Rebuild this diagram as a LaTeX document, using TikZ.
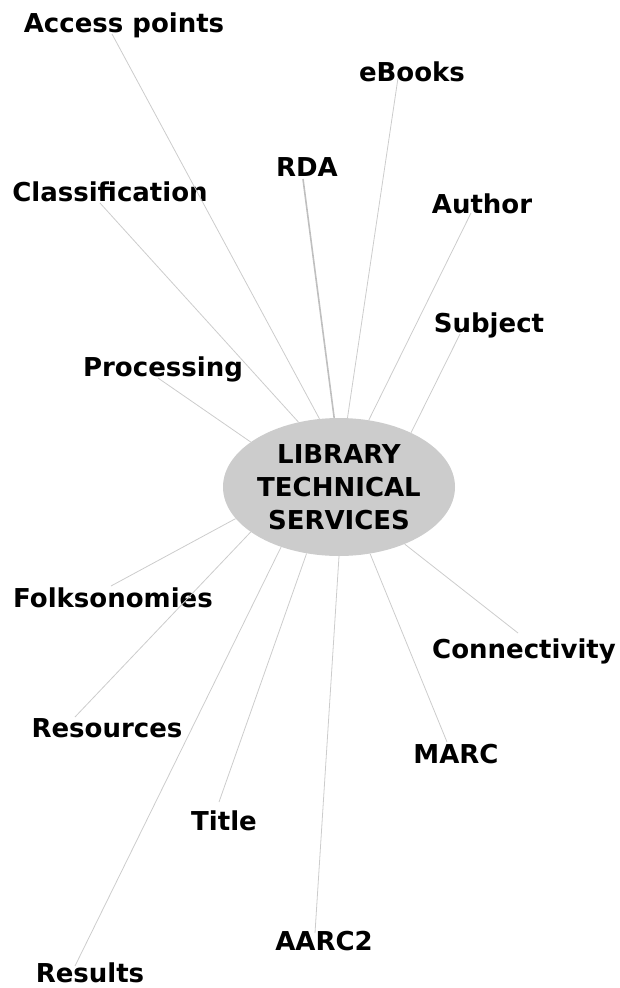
\documentclass[tikz,border=0pt]{standalone}
\usepackage{fontspec}
\setmainfont{DejaVu Sans}
\usetikzlibrary{shapes.geometric}
\begin{document}
\begin{tikzpicture}[x=1pt,y=-1pt,
  lbl/.style={anchor=base,inner sep=0pt,font=\fontsize{26}{32}\selectfont\bfseries},
  spoke/.style={draw=black!20,line width=0.8pt}]
  \useasboundingbox (0,0) rectangle (619,988);
  \node[ellipse,fill=black!20,minimum width=232pt,minimum height=138pt,inner sep=0pt,align=center,
    font=\fontsize{26}{33}\selectfont\bfseries] (lts) at (339,487) {LIBRARY\\TECHNICAL\\SERVICES};
  % labels round the centre
  \node[lbl] (acc) at (124,32) {Access points};  \coordinate (acc-e) at (112,34);
  \node[lbl] (ebk) at (412,81) {eBooks};         \coordinate (ebk-e) at (398,78);
  \node[lbl] (rda) at (307,176) {RDA};           \coordinate (rda-e) at (303,179);
  \node[lbl] (aut) at (482,213) {Author};        \coordinate (aut-e) at (471,213);
  \node[lbl] (cls) at (110,201) {Classification};\coordinate (cls-e) at (100,203);
  \node[lbl] (sbj) at (489,332) {Subject};       \coordinate (sbj-e) at (460,334);
  \node[lbl] (prc) at (163,376) {Processing};    \coordinate (prc-e) at (158,378);
  \node[lbl] (flk) at (113,607) {Folksonomies};  \coordinate (flk-e) at (111,586);
  \node[lbl] (cnn) at (524,658) {Connectivity};  \coordinate (cnn-e) at (518,633);
  \node[lbl] (res) at (107,737) {Resources};     \coordinate (res-e) at (75,717);
  \node[lbl] (mrc) at (456,763) {MARC};          \coordinate (mrc-e) at (447,742);
  \node[lbl] (ttl) at (224,830) {Title};         \coordinate (ttl-e) at (219,802);
  \node[lbl] (aac) at (324,950) {AARC2};         \coordinate (aac-e) at (315,933);
  \node[lbl] (rsl) at (90,982) {Results};        \coordinate (rsl-e) at (75,966);
  % spokes
  \draw[spoke] (acc-e) -- (lts.106.5); \draw[spoke] (ebk-e) -- (lts.83.6);
  \draw[spoke,draw=black!25,line width=1.6pt] (rda-e) -- (lts.94);
  \draw[spoke] (aut-e) -- (lts.66.9); \draw[spoke] (cls-e) -- (lts.122.5);
  \draw[spoke] (sbj-e) -- (lts.37.3); \draw[spoke] (prc-e) -- (lts.153);
  \draw[spoke] (flk-e) -- (lts.197.6); \draw[spoke] (cnn-e) -- (lts.319.2);
  \draw[spoke] (res-e) -- (lts.207.8); \draw[spoke] (mrc-e) -- (lts.295.2);
  \draw[spoke] (ttl-e) -- (lts.244.8); \draw[spoke] (aac-e) -- (lts.270);
  \draw[spoke] (rsl-e) -- (lts.226.8);
\end{tikzpicture}
\end{document}
